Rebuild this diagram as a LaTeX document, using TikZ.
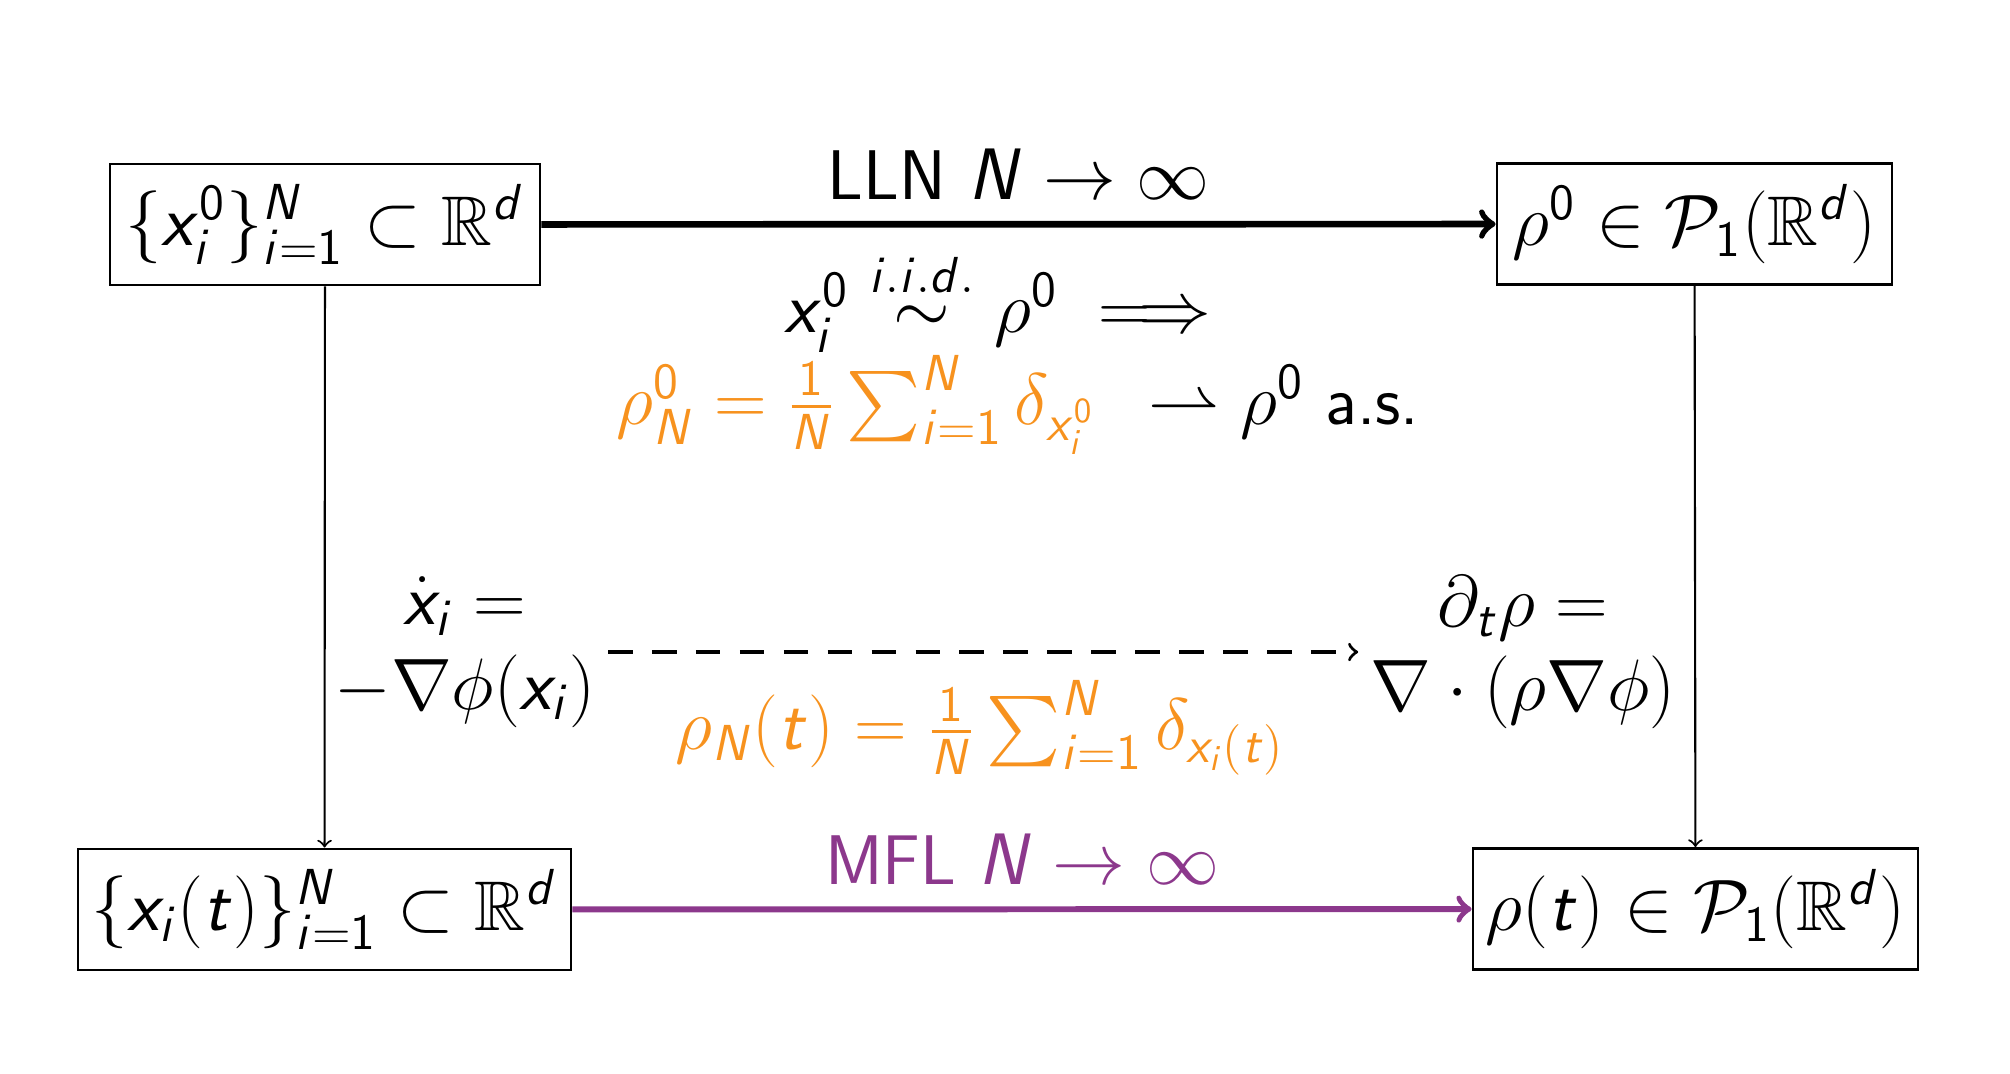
\documentclass[tikz,border=0pt]{standalone}
\usepackage{amsmath,amssymb}
\renewcommand\familydefault{\sfdefault}
% sans serif letters and digits in math, as in slides
\DeclareSymbolFont{sfletters}{OT1}{cmss}{m}{sl}
\DeclareSymbolFont{sfdigits}{OT1}{cmss}{m}{n}
\DeclareMathSymbol{x}{\mathalpha}{sfletters}{`x}
\DeclareMathSymbol{i}{\mathalpha}{sfletters}{`i}
\DeclareMathSymbol{d}{\mathalpha}{sfletters}{`d}
\DeclareMathSymbol{t}{\mathalpha}{sfletters}{`t}
\DeclareMathSymbol{N}{\mathalpha}{sfletters}{`N}
\DeclareMathSymbol{0}{\mathalpha}{sfdigits}{`0}
\DeclareMathSymbol{1}{\mathalpha}{sfdigits}{`1}
\definecolor{emporange}{RGB}{247,146,30}
\definecolor{mflpurple}{RGB}{140,56,140}

\begin{document}
\begin{tikzpicture}[font=\fontsize{20}{24}\selectfont,
    box/.style={draw,thick,minimum height=1.21cm}]
    \useasboundingbox (0,0) rectangle (20.1,10.73);
    \node[box,minimum width=4.30cm] (x0) at (3.25,8.485) {$\{x_i^0\}_{i=1}^N \subset \mathbb{R}^d$};
    \node[box,minimum width=3.95cm] (rho0) at (16.945,8.49) {$\rho^0 \in \mathcal{P}_1(\mathbb{R}^d)$};
    \node[box,minimum width=4.93cm] (xt) at (3.245,1.635) {$\{x_i(t)\}_{i=1}^N \subset \mathbb{R}^d$};
    \node[box,minimum width=4.45cm] (rhot) at (16.955,1.64) {$\rho(t) \in \mathcal{P}_1(\mathbb{R}^d)$};
    \node (ode) at (4.65,4.21) [align=center] {$\dot{x}_i =$\\$-\nabla\phi(x_i)$};
    \node (pde) at (15.23,4.21) [align=center] {$\partial_t\rho =$\\$\nabla\cdot(\rho\nabla\phi)$};
    \draw[->,line width=1.9pt] (x0) -- (rho0) node[midway,above=0.1cm] (lln) {LLN $N \to \infty$};
    \draw[->,line width=1.7pt,mflpurple] (xt) -- (rhot) node[midway,above=0.1cm] (mfl) {MFL $N \to \infty$};
    \draw[->,line width=0.6pt] (x0) -- (xt);
    \draw[->,line width=0.6pt] (rho0) -- (rhot);
    \draw[->,line width=0.95pt,dash pattern=on 7pt off 5.5pt] (ode) -- (pde);
    \node (iid) at (10.08,7.72) {$x_i^0 \stackrel{i.i.d.}{\sim} \rho^0 \implies$};
    \node (emp) at (10.18,6.68) {\color{emporange}$\rho_N^0 = \frac{1}{N}\sum_{i=1}^N \delta_{x_i^0}$\hspace{0.45em} \color{black}$\rightharpoonup \rho^0$ a.s.};
    \node[emporange] (empt) at (9.8,3.45) {$\rho_N(t) = \frac{1}{N}\sum_{i=1}^N \delta_{x_i(t)}$};
\end{tikzpicture}
\end{document}
